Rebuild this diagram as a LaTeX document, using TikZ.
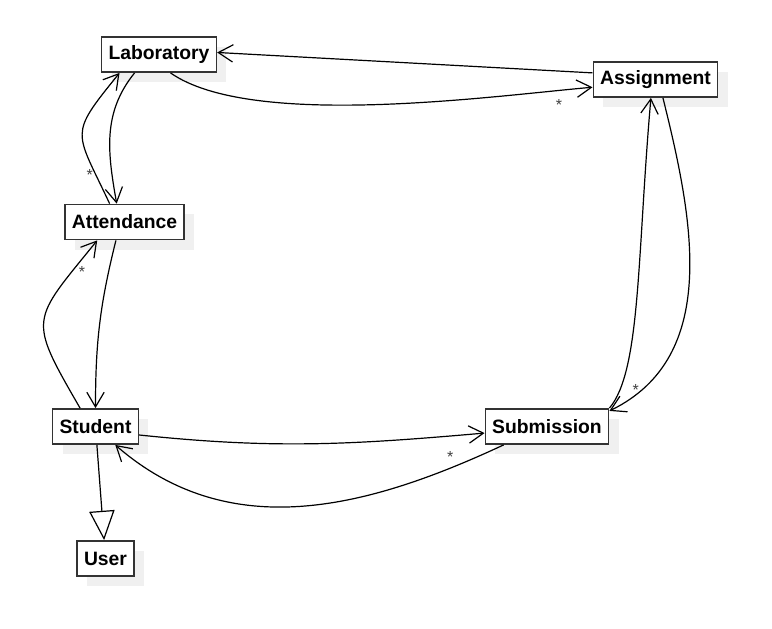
\documentclass[tikz,border=0pt]{standalone}
\usepackage{fontspec}
\setmainfont{Liberation Sans}
\usetikzlibrary{arrows.meta,shadows}
\tikzset{
  >={Straight Barb[length=11pt,width=13pt]},
  class/.style={draw=black!80, line width=1.1pt, fill=white,
    font=\fontsize{14.5}{17}\selectfont\bfseries,
    inner xsep=5.2pt, inner ysep=0pt, minimum height=26.5pt,
    drop shadow={shadow xshift=7.5pt, shadow yshift=-7.5pt, fill=black!6, opacity=1}},
  assoc/.style={->, line width=0.9pt},
  isa/.style={-{Triangle[open, length=22pt, width=19pt, fill=white]}, line width=0.9pt},
  mult/.style={font=\fontsize{12}{12}\selectfont, text=black!75, inner sep=1pt},
}

\begin{document}
\begin{tikzpicture}[x=0.75pt, y=0.75pt]
    \useasboundingbox (0,0) rectangle (772,-629);
    \node[class] (lab) at (159,-54.5)  {Laboratory};
    \node[class] (asg) at (655.5,-79.5) {Assignment};
    \node[class] (att) at (124.5,-222) {Attendance};
    \node[class] (stu) at (95.5,-426.5) {Student};
    \node[class] (sub) at (547,-426.5) {Submission};
    \node[class] (usr) at (105.5,-558.5) {User};
    \path[assoc]
      (asg.174)  edge (lab.2.5)
      (lab.-58)  edge[out=-35, in=185, looseness=0.6]
                   node[mult, pos=0.9, below=5pt] {*} (asg.-173)
      (att.129)  edge[out=115, in=231, looseness=1.6]
                   node[mult, pos=0.15, left=1pt] {*} (lab.-155)
      (lab.-143) edge[out=231, in=100] (att.113)
      (stu.130)  edge[out=120, in=231, looseness=1.6]
                   node[mult, pos=0.85, right=4pt] {*} (att.-146)
      (att.-115) edge[out=-104, in=90] (stu.north)
      (stu.-11)  edge[out=-6, in=185] (sub.-174)
      (sub.-157) edge[out=205, in=-41]
                   node[mult, pos=0.13, above=3pt] {*} (stu.-43.5)
      (asg.-68)  edge[out=-76, in=26] (sub.14)
      (sub.north east) edge[out=50, in=-95, out looseness=0.4, in looseness=1.3]
                   node[mult, pos=0.13, right=8pt] {*} (asg.-104);
    \draw[isa] (stu) -- (usr);
\end{tikzpicture}
\end{document}
